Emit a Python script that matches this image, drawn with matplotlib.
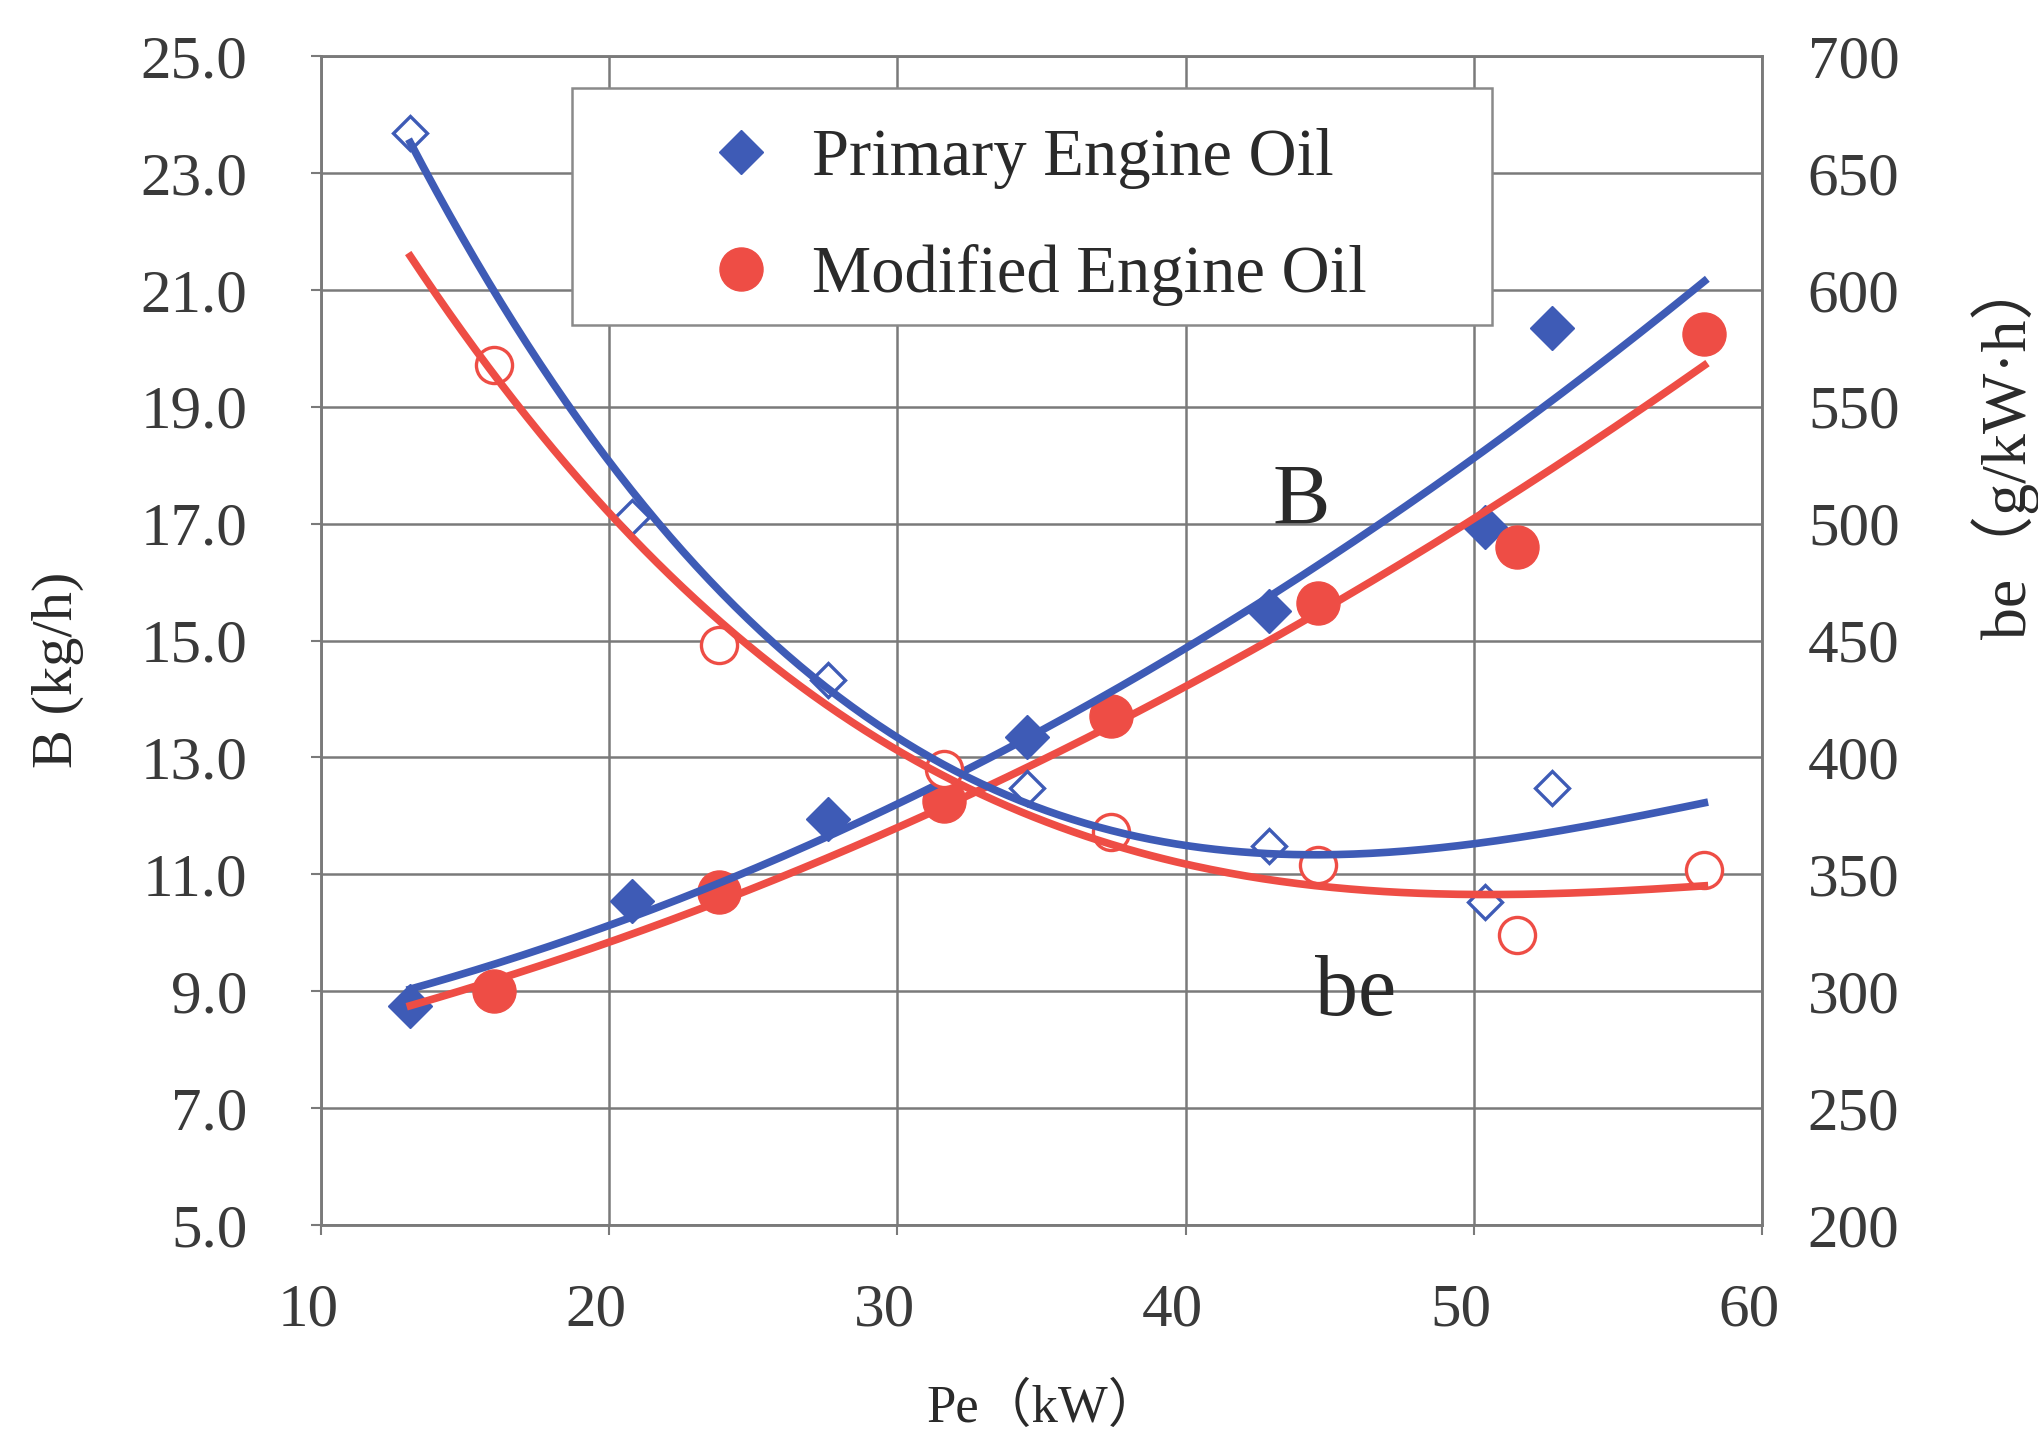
import numpy as np
import matplotlib
matplotlib.use("Agg")
import matplotlib.pyplot as plt
from matplotlib.lines import Line2D
from matplotlib.patches import Rectangle
from matplotlib.legend_handler import HandlerLine2D
from matplotlib.font_manager import FontProperties
from matplotlib.transforms import ScaledTranslation

# ---------------- data ----------------
pe_primary = [13.1, 20.8, 27.6, 34.5, 42.9, 50.4, 52.7]
B_primary = [8.75, 10.55, 11.95, 13.35, 15.5, 16.95, 20.35]
be_primary = [667, 503, 433, 387, 362, 338, 387]

pe_modified = [16.0, 23.8, 31.6, 37.4, 44.6, 51.5, 58.0]
B_modified = [9.0, 10.7, 12.25, 13.7, 15.65, 16.6, 20.25]
be_modified = [568, 448, 395, 368, 354, 324, 352]

series_labels = ["Primary Engine Oil", "Modified Engine Oil"]
x_ticks = [10, 20, 30, 40, 50, 60]
B_ticks = [5, 7, 9, 11, 13, 15, 17, 19, 21, 23, 25]
be_ticks = [200, 250, 300, 350, 400, 450, 500, 550, 600, 650, 700]

BLUE = "#3E5BB6"
RED = "#EE4D45"
GRID = "#7a7a7a"
TXT = "#2a2a2a"
TICK_TXT = "#3a3a3a"

W, H = 2038, 1442
fig = plt.figure(figsize=(W / 100, H / 100), dpi=100)
ax = fig.add_axes([321 / W, 1 - 1225 / H, 1441 / W, 1169 / H])
ax2 = ax.twinx()

ax.set_xlim(10, 60)
ax.set_ylim(5, 25)
ax2.set_ylim(200, 700)
ax.set_xticks(x_ticks)
ax.set_yticks(B_ticks)
ax2.set_yticks(be_ticks)
ax.set_xticklabels([f"{v}" for v in x_ticks])
ax.set_yticklabels([f"{v:.1f}" for v in B_ticks])
ax2.set_yticklabels([f"{v}" for v in be_ticks])

for lab in ax.get_xticklabels() + ax.get_yticklabels() + ax2.get_yticklabels():
    lab.set_fontfamily("Liberation Serif")
    lab.set_fontsize(44)
    lab.set_color(TICK_TXT)

ax.tick_params(axis="y", length=7, width=1.5, color=GRID, pad=46)
ax.tick_params(axis="x", length=7, width=1.5, color=GRID, pad=35)
ax2.tick_params(axis="y", length=0, pad=33)

# x tick labels sit slightly left of their grid lines in the original
shift = ScaledTranslation(-13 / 100, 0, fig.dpi_scale_trans)
for lab in ax.get_xticklabels():
    lab.set_transform(lab.get_transform() + shift)

ax.grid(True, color=GRID, linewidth=1.8)
ax.set_axisbelow(True)
for a in (ax, ax2):
    for s in a.spines.values():
        s.set_color(GRID)
        s.set_linewidth(1.8)

# ---------------- fitted trend lines ----------------
all_x = pe_primary + pe_modified
x_fit = np.linspace(min(all_x), max(all_x), 300)

fB_p = np.polyval(np.polyfit(pe_primary, B_primary, 2), x_fit)
fB_m = np.polyval(np.polyfit(pe_modified, B_modified, 2), x_fit)
fbe_p = np.polyval(np.polyfit(pe_primary, be_primary, 3), x_fit)
fbe_m = np.polyval(np.polyfit(pe_modified, be_modified, 3), x_fit)

LW = 5.5
# B markers (left axis)
ax.plot(pe_primary, B_primary, ls="none", marker="D", markersize=22,
        color=BLUE, zorder=3)
ax.plot(pe_modified, B_modified, ls="none", marker="o", markersize=31,
        color=RED, zorder=3)
ax.plot(x_fit, fB_m, color=RED, lw=LW, zorder=4)
ax.plot(x_fit, fB_p, color=BLUE, lw=LW, zorder=4)

# be markers (right axis)
ax2.plot(pe_primary, be_primary, ls="none", marker="D", markersize=17,
         markerfacecolor="white", markeredgecolor=BLUE, markeredgewidth=2.4, zorder=3)
ax2.plot(pe_modified, be_modified, ls="none", marker="o", markersize=26,
         markerfacecolor="white", markeredgecolor=RED, markeredgewidth=2.4, zorder=3)
ax2.plot(x_fit, fbe_m, color=RED, lw=LW, zorder=4)
ax2.plot(x_fit, fbe_p, color=BLUE, lw=LW, zorder=4)

# curve annotations
ax.text(44.0, 17.35, "B", family="Liberation Serif", fontsize=62,
        ha="center", va="center", color=TXT, zorder=5)
ax.text(45.9, 8.95, "be", family="Liberation Serif", fontsize=62,
        ha="center", va="center", color=TXT, zorder=5)

# axis labels
lab_fam = ["Liberation Serif", "Noto Sans CJK SC"]
fig.text(1044 / W, 1 - 1408 / H, "Pe（kW）", family=lab_fam, fontsize=38,
         ha="center", va="center", color=TXT)
fig.text(58 / W, 1 - 670 / H, "B (kg/h)", family=lab_fam, fontsize=42,
         ha="center", va="center", rotation=90, color=TXT)
fig.text(2006 / W, 1 - 447 / H, "be（g/kW·h）", family=lab_fam, fontsize=46,
         ha="center", va="center", rotation=90, color=TXT)

# legend (frame drawn as a figure-level box, entries placed inside it)
frame = Rectangle((572 / W, 1 - 325 / H), (1492 - 572) / W, (325 - 88) / H,
                  transform=fig.transFigure, facecolor="white",
                  edgecolor="#8a8a8a", linewidth=1.8, zorder=4)
fig.add_artist(frame)
handles = [
    Line2D([], [], ls="none", marker="D", markersize=22, color=BLUE),
    Line2D([], [], ls="none", marker="o", markersize=31, color=RED),
]
leg = fig.legend(
    handles, series_labels,
    loc="upper left",
    bbox_to_anchor=(592 / W, 1 - 128 / H),
    bbox_transform=fig.transFigure,
    borderaxespad=0, borderpad=0,
    prop=FontProperties(family="Liberation Serif", size=48),
    frameon=False,
    labelspacing=0.83, handlelength=2.9, handletextpad=0.4,
    handler_map={Line2D: HandlerLine2D(numpoints=1, xpad=1.57)},
)
for t in leg.get_texts():
    t.set_color(TXT)
leg.set_zorder(6)

fig.savefig("out.png", dpi=100, facecolor="white")
